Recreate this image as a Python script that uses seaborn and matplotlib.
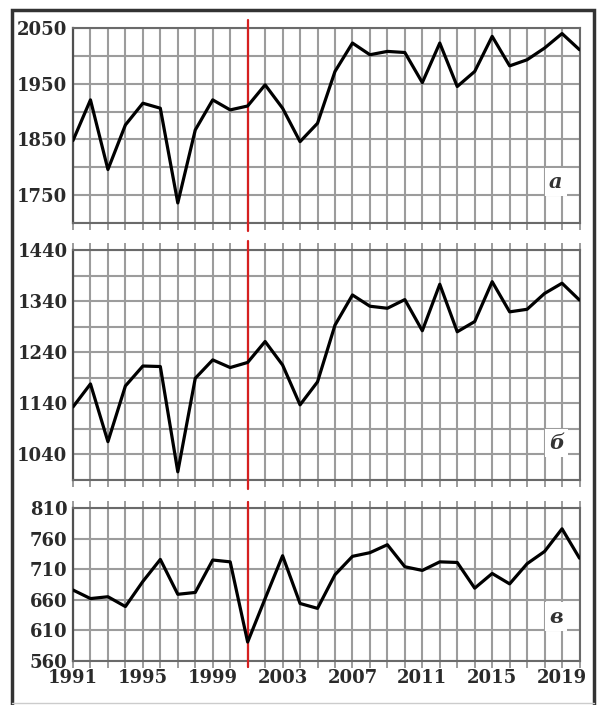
import matplotlib
matplotlib.use("Agg")
import matplotlib.pyplot as plt
import seaborn as sns
import numpy as np
import pandas as pd
from matplotlib.patches import Rectangle
from matplotlib.lines import Line2D

years = list(range(1991, 2021))
series_a = [1848, 1921, 1796, 1876, 1915, 1906, 1736, 1867, 1921, 1903,
            1910, 1948, 1906, 1846, 1879, 1972, 2023, 2002, 2008, 2006,
            1952, 2023, 1945, 1972, 2035, 1982, 1993, 2014, 2040, 2011]
series_b = [1133, 1178, 1065, 1174, 1213, 1212, 1006, 1189, 1225, 1210,
            1220, 1261, 1215, 1137, 1182, 1293, 1352, 1330, 1326, 1343,
            1282, 1373, 1280, 1300, 1378, 1319, 1324, 1355, 1375, 1342]
series_c = [676, 662, 665, 649, 690, 726, 669, 672, 725, 722,
            591, 662, 732, 654, 646, 701, 731, 737, 750, 714,
            708, 722, 721, 679, 703, 686, 719, 739, 776, 728]
panel_labels = ["а", "б", "в"]
xtick_labels = [1991, 1995, 1999, 2003, 2007, 2011, 2015, 2019]
marker_year = 2001

sns.set_theme(style="white")
plt.rcParams["font.family"] = ["DejaVu Serif"]

W, H = 600, 705
fig = plt.figure(figsize=(6, 7.05), dpi=100)

def ax_at(x0, x1, ytop, ybot):
    return fig.add_axes([x0 / W, 1 - ybot / H, (x1 - x0) / W, (ybot - ytop) / H])

specs = [
    (series_a, (1700, 2050), [1750, 1850, 1950, 2050], 28, 223, (0.953, 0.21), False),
    (series_b, (990, 1440), [1040, 1140, 1240, 1340, 1440], 250, 480, (0.955, 0.16), True),
    (series_c, (560, 810), [560, 610, 660, 710, 760, 810], 508, 661, (0.953, 0.29), True),
]

grid_c = "#9c9c9c"
for i, (vals, ylim, yt, yt0, yb0, lab_pos, top_ticks) in enumerate(specs):
    ax = ax_at(73, 579.5, yt0, yb0)
    df = pd.DataFrame({"year": years, "value": vals})
    ax.set_xlim(1991, 2020)
    ax.set_ylim(*ylim)
    ax.set_xticks(years)
    ax.grid(True, color=grid_c, linewidth=1.5)
    ygrid = np.arange(ylim[0], ylim[1] + 1, 50)
    ax.set_yticks(ygrid)
    ax.set_yticklabels([str(v) if v in yt else "" for v in ygrid])
    ax.tick_params(axis="y", length=0, pad=4, labelsize=13)
    for t in ax.get_yticklabels():
        t.set_fontweight("bold")
        t.set_color("#2a2a2a")
    ax.tick_params(axis="x", length=5, width=1.4, color=grid_c, direction="out",
                   top=top_ticks, bottom=True, labelsize=13, pad=1)
    if i == 2:
        ax.set_xticklabels([str(y) if y in xtick_labels else "" for y in years])
        for t in ax.get_xticklabels():
            t.set_fontweight("bold")
            t.set_color("#2a2a2a")
    else:
        ax.set_xticklabels([])
    for s in ["top", "bottom", "right"]:
        ax.spines[s].set_color("#6a6a6a")
        ax.spines[s].set_linewidth(1.5)
    ax.spines["left"].set_color("#505050")
    ax.spines["left"].set_linewidth(1.6)
    ax.axvline(marker_year, ymin=-0.04, ymax=1.04, color="#d62020", linewidth=1.6,
               clip_on=False, zorder=3)
    sns.lineplot(data=df, x="year", y="value", ax=ax, color="black", linewidth=2.3,
                 zorder=4)
    ax.set_xlabel("")
    ax.set_ylabel("")
    ax.text(lab_pos[0], lab_pos[1], panel_labels[i], transform=ax.transAxes,
            ha="center", va="center", fontsize=15, fontstyle="italic",
            fontweight="bold", color="#333333", zorder=5,
            bbox=dict(facecolor="white", edgecolor="none", pad=3))

# outer frame (bottom edge runs off the picture)
fig.patches.append(Rectangle((12 / W, -10 / H), 582 / W, 705 / H,
                             transform=fig.transFigure, fill=False,
                             edgecolor="#333333", linewidth=2.5))
fig.lines.append(Line2D([12 / W, 594 / W], [2 / H, 2 / H], transform=fig.transFigure,
                        color="#cccccc", linewidth=1.0))

fig.savefig("out.png", dpi=100)
